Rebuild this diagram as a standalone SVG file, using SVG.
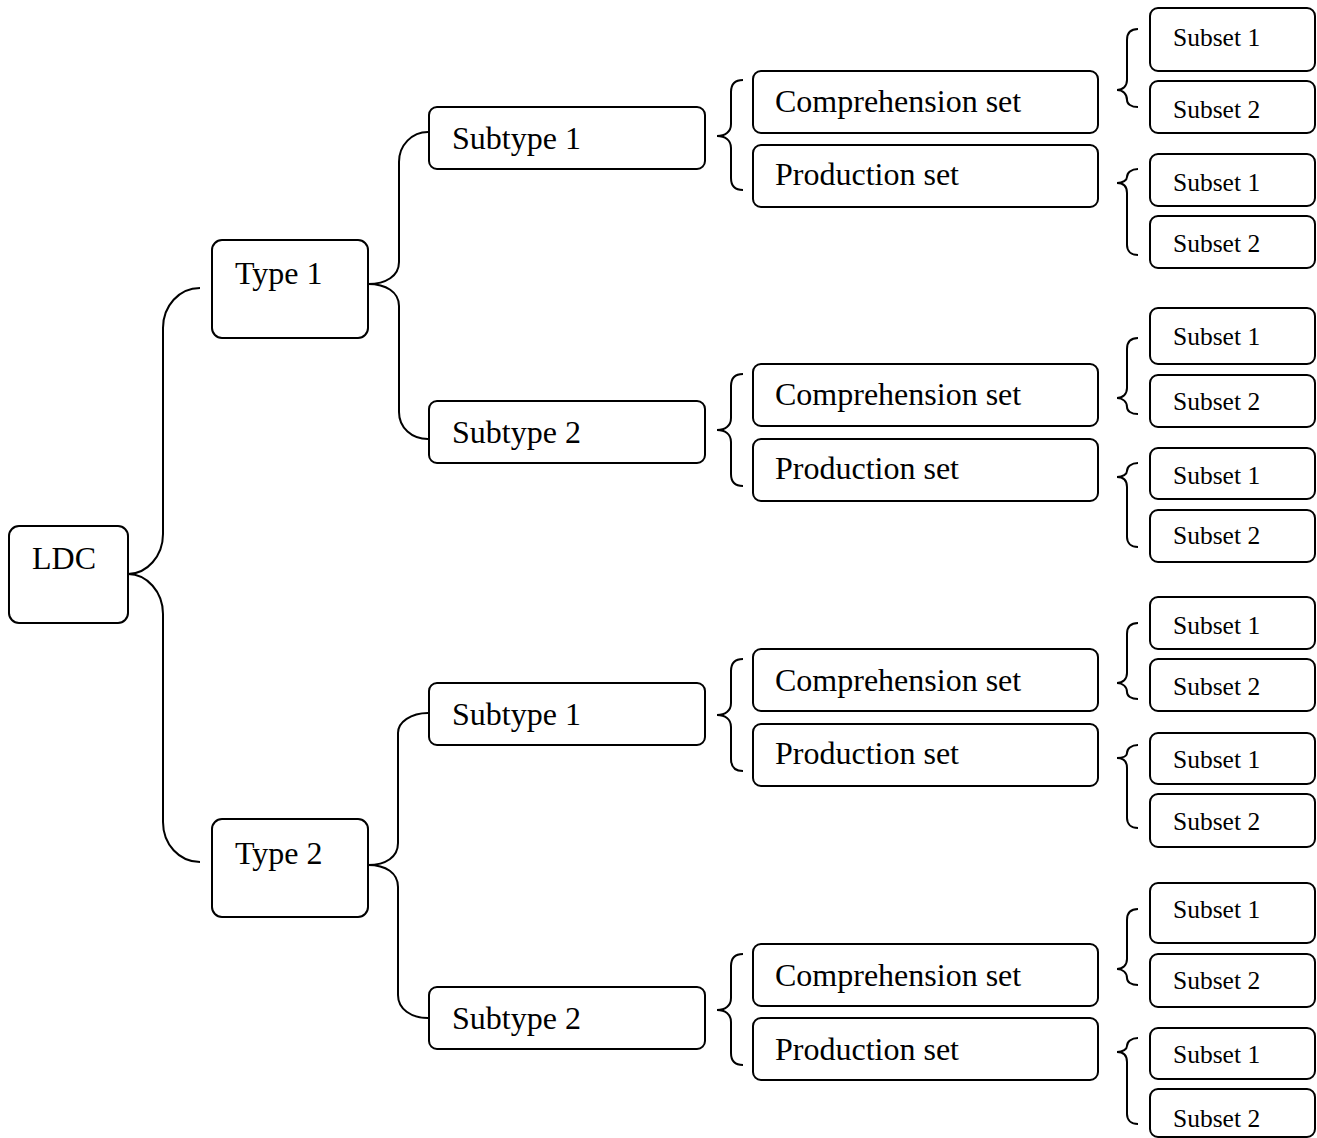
<svg xmlns="http://www.w3.org/2000/svg" width="1317" height="1138" viewBox="0 0 1317 1138">
<style>
rect{fill:#fff;stroke:#000;stroke-width:2}
path{fill:none;stroke:#000;stroke-width:2}
text{font-family:"Liberation Serif","Times New Roman",serif;fill:#000}
.big{font-size:32px}
.sm{font-size:25.5px}
</style>
<rect x="0" y="0" width="1317" height="1138" style="stroke:none"/>
<g id="connectors">
<path d="M128,574 C147,574 163,556 163,534 V328 C163,306 179,288 200,288"/>
<path d="M128,574 C147,574 163,592 163,614 V822 C163,844 179,862 200,862"/>
<path d="M368,284 C386,284 399,276 399,262 V162 C399,145 412,132 428,132"/>
<path d="M368,284 C386,284 399,292 399,306 V412 C399,428 412,439 428,439"/>
<path d="M368,865 C386,865 398,857 398,843 V733 C398,722 411,713 428,713"/>
<path d="M368,865 C386,865 398,873 398,887 V995 C398,1009 411,1018 428,1018"/>
<path d="M743,80 C735,80 731,84 731,92 V124 C731,132 725,136 717,136 C725,136 731,140 731,148 V178 C731,186 735,190 743,190"/>
<path d="M743,374 C735,374 731,378 731,386 V418 C731,426 725,430 717,430 C725,430 731,434 731,442 V474 C731,482 735,486 743,486"/>
<path d="M743,659 C735,659 731,663 731,671 V703 C731,711 725,715 717,715 C725,715 731,719 731,727 V759 C731,767 735,771 743,771"/>
<path d="M743,954 C735,954 731,958 731,966 V998 C731,1006 725,1010 717,1010 C725,1010 731,1014 731,1022 V1053 C731,1061 735,1065 743,1065"/>
<path d="M1138,29 C1131,29 1127,33 1127,40 V80 C1127,86 1123,90 1117,90 C1123,90 1127,94 1127,100 C1127,104 1131,107 1138,107"/>
<path d="M1138,169 C1131,169 1127,173 1127,177 C1127,180 1123,183 1117,183 C1123,183 1127,186 1127,193 V245 C1127,251 1131,255 1138,255"/>
<path d="M1138,338 C1131,338 1127,342 1127,349 V388 C1127,394 1123,398 1117,398 C1123,398 1127,402 1127,407 C1127,411 1131,414 1138,414"/>
<path d="M1138,463 C1131,463 1127,467 1127,471 C1127,474 1123,477 1117,477 C1123,477 1127,480 1127,487 V537 C1127,543 1131,547 1138,547"/>
<path d="M1138,623 C1131,623 1127,627 1127,634 V673 C1127,679 1123,683 1117,683 C1123,683 1127,687 1127,692 C1127,696 1131,699 1138,699"/>
<path d="M1138,745 C1131,745 1127,749 1127,753 C1127,756 1123,758 1117,758 C1123,758 1127,761 1127,768 V818 C1127,824 1131,828 1138,828"/>
<path d="M1138,909 C1131,909 1127,913 1127,920 V959 C1127,965 1123,969 1117,969 C1123,969 1127,973 1127,978 C1127,982 1131,985 1138,985"/>
<path d="M1138,1038 C1131,1038 1127,1042 1127,1046 C1127,1049 1123,1052 1117,1052 C1123,1052 1127,1055 1127,1062 V1114 C1127,1120 1131,1124 1138,1124"/>
</g>
<g id="ldc"><rect x="9" y="526" width="119" height="97" rx="10"/><text class="big" x="32" y="569">LDC</text></g>
<g id="type1"><rect x="212" y="240" width="156" height="98" rx="10"/><text class="big" x="235" y="284">Type 1</text></g>
<g id="type2"><rect x="212" y="819" width="156" height="98" rx="10"/><text class="big" x="235" y="864">Type 2</text></g>
<g id="t1-subtype1"><rect x="429" y="107" width="276" height="62" rx="8"/><text class="big" x="452" y="149">Subtype 1</text></g>
<g id="t1-subtype2"><rect x="429" y="401" width="276" height="62" rx="8"/><text class="big" x="452" y="443">Subtype 2</text></g>
<g id="t2-subtype1"><rect x="429" y="683" width="276" height="62" rx="8"/><text class="big" x="452" y="725">Subtype 1</text></g>
<g id="t2-subtype2"><rect x="429" y="987" width="276" height="62" rx="8"/><text class="big" x="452" y="1029">Subtype 2</text></g>
<g id="b1-comp"><rect x="753" y="71" width="345" height="62" rx="8"/><text class="big" x="775" y="112">Comprehension set</text></g>
<g id="b1-prod"><rect x="753" y="145" width="345" height="62" rx="8"/><text class="big" x="775" y="185">Production set</text></g>
<g id="b2-comp"><rect x="753" y="364" width="345" height="62" rx="8"/><text class="big" x="775" y="405">Comprehension set</text></g>
<g id="b2-prod"><rect x="753" y="439" width="345" height="62" rx="8"/><text class="big" x="775" y="479">Production set</text></g>
<g id="b3-comp"><rect x="753" y="649" width="345" height="62" rx="8"/><text class="big" x="775" y="691">Comprehension set</text></g>
<g id="b3-prod"><rect x="753" y="724" width="345" height="62" rx="8"/><text class="big" x="775" y="764">Production set</text></g>
<g id="b4-comp"><rect x="753" y="944" width="345" height="62" rx="8"/><text class="big" x="775" y="986">Comprehension set</text></g>
<g id="b4-prod"><rect x="753" y="1018" width="345" height="62" rx="8"/><text class="big" x="775" y="1060">Production set</text></g>
<g id="b1-s1"><rect x="1150" y="8" width="165" height="63" rx="8"/><text class="sm" x="1173" y="46">Subset 1</text></g>
<g id="b1-s2"><rect x="1150" y="81" width="165" height="52" rx="8"/><text class="sm" x="1173" y="118">Subset 2</text></g>
<g id="b1-s3"><rect x="1150" y="154" width="165" height="52" rx="8"/><text class="sm" x="1173" y="191">Subset 1</text></g>
<g id="b1-s4"><rect x="1150" y="216" width="165" height="52" rx="8"/><text class="sm" x="1173" y="252">Subset 2</text></g>
<g id="b2-s1"><rect x="1150" y="308" width="165" height="56" rx="8"/><text class="sm" x="1173" y="345">Subset 1</text></g>
<g id="b2-s2"><rect x="1150" y="375" width="165" height="52" rx="8"/><text class="sm" x="1173" y="410">Subset 2</text></g>
<g id="b2-s3"><rect x="1150" y="448" width="165" height="51" rx="8"/><text class="sm" x="1173" y="484">Subset 1</text></g>
<g id="b2-s4"><rect x="1150" y="510" width="165" height="52" rx="8"/><text class="sm" x="1173" y="544">Subset 2</text></g>
<g id="b3-s1"><rect x="1150" y="597" width="165" height="52" rx="8"/><text class="sm" x="1173" y="634">Subset 1</text></g>
<g id="b3-s2"><rect x="1150" y="659" width="165" height="52" rx="8"/><text class="sm" x="1173" y="695">Subset 2</text></g>
<g id="b3-s3"><rect x="1150" y="733" width="165" height="51" rx="8"/><text class="sm" x="1173" y="768">Subset 1</text></g>
<g id="b3-s4"><rect x="1150" y="794" width="165" height="53" rx="8"/><text class="sm" x="1173" y="830">Subset 2</text></g>
<g id="b4-s1"><rect x="1150" y="883" width="165" height="60" rx="8"/><text class="sm" x="1173" y="918">Subset 1</text></g>
<g id="b4-s2"><rect x="1150" y="954" width="165" height="53" rx="8"/><text class="sm" x="1173" y="989">Subset 2</text></g>
<g id="b4-s3"><rect x="1150" y="1028" width="165" height="51" rx="8"/><text class="sm" x="1173" y="1063">Subset 1</text></g>
<g id="b4-s4"><rect x="1150" y="1089" width="165" height="48" rx="8"/><text class="sm" x="1173" y="1127">Subset 2</text></g>
</svg>
